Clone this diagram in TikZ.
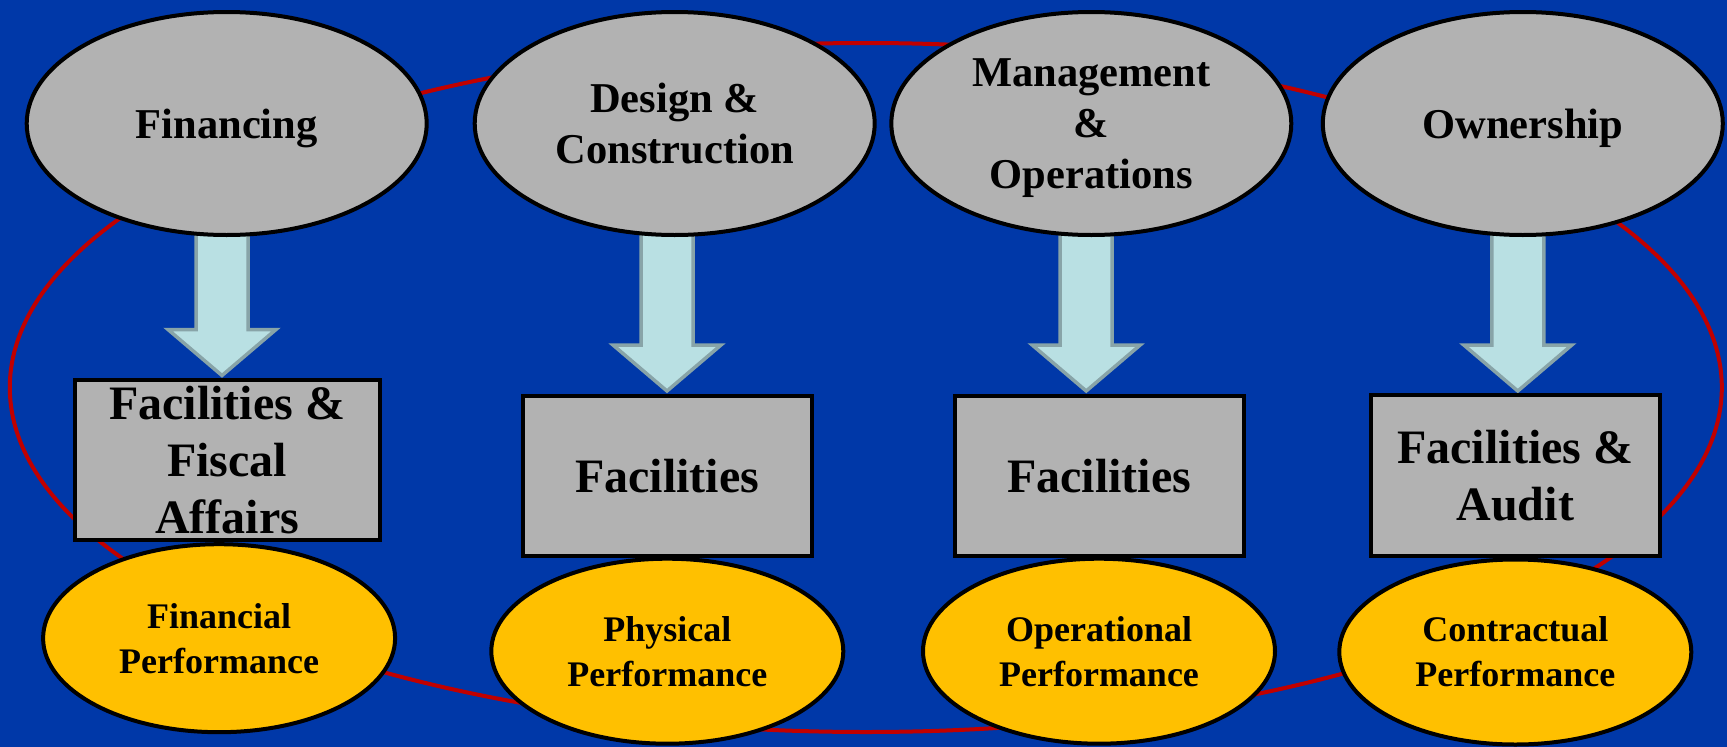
\documentclass[tikz,border=0pt]{standalone}
\usepackage{fontspec}
\setmainfont{Liberation Serif}
\usetikzlibrary{shapes.geometric,calc,backgrounds}
\definecolor{bgblue}{RGB}{0,56,168}
\definecolor{loopred}{RGB}{192,0,0}
\definecolor{boxgray}{RGB}{178,178,178}
\definecolor{perfgold}{RGB}{255,192,0}
\definecolor{arrowfill}{RGB}{185,224,227}
\definecolor{arrowedge}{RGB}{136,164,168}
\newcommand\blockarrow[2]{%
  \path[barrow] let \p1=(#1.center), \p2=(#2) in
    (\x2-26pt,\y1) -- (\x2-26pt,\y2+46pt) -- (\x2-54pt,\y2+46pt) -- (\x2,\y2)
    -- (\x2+54pt,\y2+46pt) -- (\x2+26pt,\y2+46pt) -- (\x2+26pt,\y1) -- cycle;}
\begin{document}
\begin{tikzpicture}[x=1pt,y=-1pt,
  topell/.style={ellipse,draw=black,line width=4pt,fill=boxgray,inner sep=0pt,
    minimum width=400pt,minimum height=223pt,align=center,text depth=0pt,
    font=\fontsize{42.5}{51}\selectfont\bfseries},
  midbox/.style={rectangle,draw=black,line width=4pt,fill=boxgray,inner sep=0pt,
    minimum width=289pt,minimum height=160pt,align=center,text depth=0pt,
    font=\fontsize{48}{57}\selectfont\bfseries},
  perfell/.style={ellipse,draw=black,line width=4pt,fill=perfgold,inner sep=0pt,
    minimum width=352pt,minimum height=185pt,align=center,text depth=0pt,
    font=\fontsize{36}{45}\selectfont\bfseries},
  barrow/.style={fill=arrowfill,draw=arrowedge,line width=3.5pt,line join=miter},
  redloop/.style={draw=loopred,line width=4pt}]
\useasboundingbox (0,0) rectangle (1727,747);
% top ellipses
\node[topell] (fin) at (226.7,123.5) {Financing};
\node[topell] (des) at (674.7,123.5) {Design \&\\Construction};
\node[topell] (mgt) at (1091.3,123.5) {Management\\\&\\Operations};
\node[topell] (own) at (1522.8,123.5) {Ownership};
% boxes
\node[midbox,minimum width=305pt] (bfin) at (227.1,460) {Facilities \&\\Fiscal\\Affairs};
\node[midbox] (bdes) at (667,475.8) {Facilities};
\node[midbox] (bmgt) at (1099.2,475.8) {Facilities};
\node[midbox,minimum height=161pt] (bown) at (1515.3,475.8) {Facilities \&\\Audit};
% performance ellipses
\node[perfell,minimum height=188pt] (pfin) at (219.1,638.2) {Financial\\Performance};
\node[perfell] (pdes) at (667.3,651.2) {Physical\\Performance};
\node[perfell] (pmgt) at (1099,651.2) {Operational\\Performance};
\node[perfell] (pown) at (1515.3,652) {Contractual\\Performance};
% arrow tips
\coordinate (t1) at (222,375.5);
\coordinate (t2) at (667,391);
\coordinate (t3) at (1086.2,391);
\coordinate (t4) at (1517.8,391);
\begin{pgfonlayer}{background}
  \fill[bgblue] (0,0) rectangle (1727,747);
  \draw[redloop] (865.8,387.5) ellipse [x radius=856pt, y radius=344.5pt];
  \blockarrow{fin}{t1}
  \blockarrow{des}{t2}
  \blockarrow{mgt}{t3}
  \blockarrow{own}{t4}
\end{pgfonlayer}
\end{tikzpicture}
\end{document}
